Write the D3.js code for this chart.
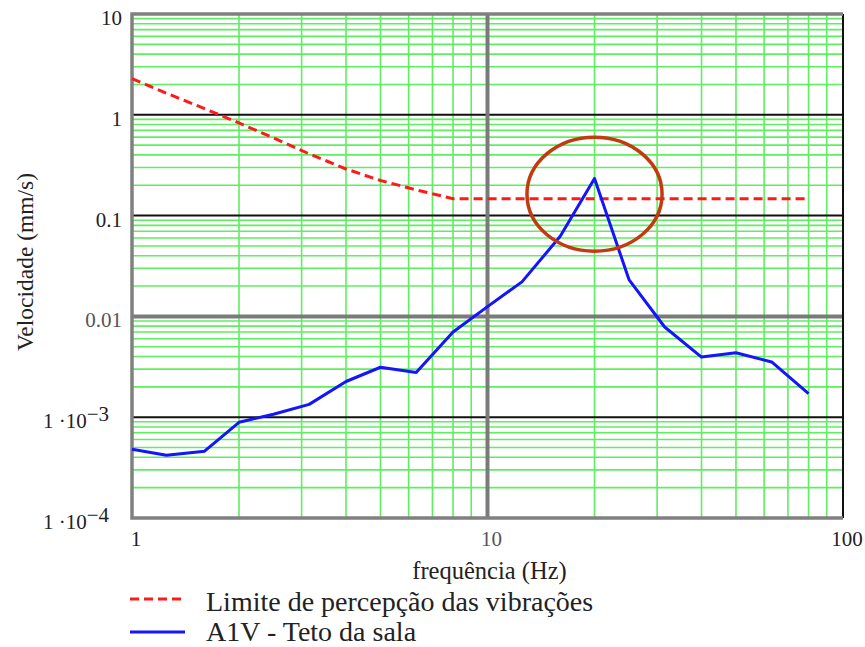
<!DOCTYPE html>
<html>
<head>
<meta charset="utf-8">
<script src="https://cdn.jsdelivr.net/npm/d3@7"></script>
<style>
    body { margin: 0; background: #fff; }
    #chart { width: 865px; height: 647px; }
    text { font-family: "Liberation Serif", "DejaVu Serif", serif; fill: #222; }
</style>
</head>
<body>
<div id="chart"></div>
<script>
// 1/3 octave band centre frequencies (Hz)
const freqs = [1, 1.25, 1.6, 2, 2.5, 3.15, 4, 5, 6.3, 8, 10, 12.5, 16, 20, 25, 31.5, 40, 50, 63, 80];

// Limite de percepção das vibrações (mm/s)
const limitValues = [2.28, 1.64, 1.15, 0.83, 0.59, 0.41, 0.29, 0.223, 0.18, 0.147,
    0.147, 0.147, 0.147, 0.147, 0.147, 0.147, 0.147, 0.147, 0.147, 0.147];

// A1V - Teto da sala (mm/s)
const a1vValues = [4.8e-4, 4.2e-4, 4.6e-4, 8.9e-4, 1.07e-3, 1.34e-3, 2.26e-3, 3.13e-3, 2.78e-3, 7.0e-3,
    0.0125, 0.022, 0.062, 0.233, 0.0232, 7.85e-3, 3.95e-3, 4.36e-3, 3.53e-3, 1.71e-3];

// axis ticks
const xTicks = [1, 10, 100];
const xTickLabels = ["1", "10", "100"];
const yTicks = [1e-4, 1e-3, 0.01, 0.1, 1, 10];
const yTickLabels = ["1·10|−4", "1·10|−3", "0.01", "0.1", "1", "10"];

// highlight ellipse around the resonance peak
const peakFreq = 20;
const peakCentre = 0.163;

const legendLabels = ["Limite de percepção das vibrações", "A1V - Teto da sala"];

class logChart {

    constructor(parentElement) {
        this.parentElement = parentElement;
        this.initVis();
    }

    initVis() {
        let vis = this;

        vis.margin = { top: 14, right: 22, bottom: 129, left: 132 };
        vis.width = 865 - vis.margin.left - vis.margin.right;
        vis.height = 647 - vis.margin.top - vis.margin.bottom;

        vis.root = d3.select("#" + vis.parentElement)
            .append("svg")
            .attr("width", 865)
            .attr("height", 647);

        vis.svg = vis.root.append("g")
            .attr("transform", `translate(${vis.margin.left},${vis.margin.top})`);

        vis.x = d3.scaleLog().domain([1, 100]).range([0, vis.width]);
        vis.y = d3.scaleLog().domain([1e-4, 10]).range([vis.height, 0]);

        // minor grid (2..9 in every decade)
        let minorX = [];
        [1, 10].forEach(d => d3.range(2, 10).forEach(k => minorX.push(k * d)));
        let minorY = [];
        [1e-4, 1e-3, 0.01, 0.1, 1].forEach(d => d3.range(2, 10).forEach(k => minorY.push(k * d)));

        vis.svg.append("g").selectAll("line")
            .data(minorX)
            .join("line")
            .attr("x1", d => vis.x(d)).attr("x2", d => vis.x(d))
            .attr("y1", 0).attr("y2", vis.height)
            .attr("stroke", "#5fee5f")
            .attr("stroke-width", 1.6);

        vis.svg.append("g").selectAll("line")
            .data(minorY)
            .join("line")
            .attr("x1", 0).attr("x2", vis.width)
            .attr("y1", d => vis.y(d)).attr("y2", d => vis.y(d))
            .attr("stroke", "#5fee5f")
            .attr("stroke-width", 1.6);

        // decade lines
        vis.svg.append("g").selectAll("line")
            .data([1e-3, 0.1, 1])
            .join("line")
            .attr("x1", 0).attr("x2", vis.width)
            .attr("y1", d => vis.y(d)).attr("y2", d => vis.y(d))
            .attr("stroke", "#111")
            .attr("stroke-width", 2);

        vis.svg.append("line")
            .attr("x1", 0).attr("x2", vis.width)
            .attr("y1", vis.y(0.01)).attr("y2", vis.y(0.01))
            .attr("stroke", "#7a7a7a")
            .attr("stroke-width", 4);

        vis.svg.append("line")
            .attr("x1", vis.x(10)).attr("x2", vis.x(10))
            .attr("y1", 0).attr("y2", vis.height)
            .attr("stroke", "#7a7a7a")
            .attr("stroke-width", 4);

        // frame
        vis.svg.append("line")
            .attr("x1", vis.width).attr("x2", vis.width)
            .attr("y1", 0).attr("y2", vis.height)
            .attr("stroke", "#111").attr("stroke-width", 2);
        vis.svg.append("path")
            .attr("d", `M${vis.width},0H0V${vis.height}H${vis.width}`)
            .attr("fill", "none")
            .attr("stroke", "#808080")
            .attr("stroke-width", 3.5);

        // tick labels
        vis.svg.append("g").selectAll("text")
            .data(xTicks)
            .join("text")
            .attr("x", d => vis.x(d) + 4)
            .attr("y", vis.height + 28)
            .attr("text-anchor", "middle")
            .style("font-size", "21px")
            .style("fill", (d, i) => d === 10 ? "#555" : "#222")
            .text((d, i) => xTickLabels[i]);

        let yLab = vis.svg.append("g").selectAll("text")
            .data(yTicks)
            .join("text")
            .attr("x", (d, i) => yTickLabels[i].includes("|") ? -23 : -10)
            .attr("y", d => vis.y(d) + 11)
            .attr("text-anchor", "end")
            .style("font-size", "21px")
            .style("fill", d => d === 0.01 ? "#555" : "#222");

        yLab.each(function (d, i) {
            let parts = yTickLabels[i].split("|");
            let t = d3.select(this);
            t.append("tspan").text(parts[0].replace("·", " ·"));
            if (parts.length > 1) {
                t.append("tspan").attr("dy", -7).text(parts[1]);
            }
        });

        // axis titles
        vis.root.append("text")
            .attr("x", vis.margin.left + vis.x(10) + 2)
            .attr("y", 579)
            .attr("text-anchor", "middle")
            .style("font-size", "24.5px")
            .text("frequência (Hz)");

        vis.root.append("text")
            .attr("transform", "translate(33,262) rotate(-90)")
            .attr("text-anchor", "middle")
            .style("font-size", "23.5px")
            .text("Velocidade (mm/s)");

        // series
        vis.line = d3.line()
            .x(d => vis.x(d[0]))
            .y(d => vis.y(d[1]));

        vis.svg.append("path")
            .datum(d3.zip(freqs, limitValues))
            .attr("fill", "none")
            .attr("stroke", "#ff1a1a")
            .attr("stroke-width", 3)
            .attr("stroke-dasharray", "9,5")
            .attr("d", vis.line);

        vis.svg.append("path")
            .datum(d3.zip(freqs, a1vValues))
            .attr("fill", "none")
            .attr("stroke", "#1414ff")
            .attr("stroke-width", 3)
            .attr("stroke-linejoin", "round")
            .attr("d", vis.line);

        // ellipse around the peak
        vis.svg.append("ellipse")
            .attr("cx", vis.x(peakFreq))
            .attr("cy", vis.y(peakCentre))
            .attr("rx", vis.x(peakFreq * Math.pow(10, 0.19)) - vis.x(peakFreq))
            .attr("ry", vis.y(peakCentre) - vis.y(peakCentre * Math.pow(10, 0.565)))
            .attr("fill", "none")
            .attr("stroke", "#c23a10")
            .attr("stroke-width", 3.5);

        // legend
        let legend = vis.root.append("g").attr("transform", "translate(130,599)");
        let styles = [
            { color: "#ff1a1a", dash: "9,5", len: 54, dy: 12 },
            { color: "#1414ff", dash: null, len: 55, dy: 9 }
        ];
        legendLabels.forEach((lab, i) => {
            let g = legend.append("g").attr("transform", `translate(0,${i * 33})`);
            g.append("line")
                .attr("x1", 0).attr("x2", styles[i].len)
                .attr("y1", 0).attr("y2", 0)
                .attr("stroke", styles[i].color)
                .attr("stroke-width", 3)
                .attr("stroke-dasharray", styles[i].dash);
            g.append("text")
                .attr("x", 76)
                .attr("y", styles[i].dy)
                .style("font-size", "28px")
                .text(lab);
        });
    }
}

new logChart("chart");
</script>
</body>
</html>
